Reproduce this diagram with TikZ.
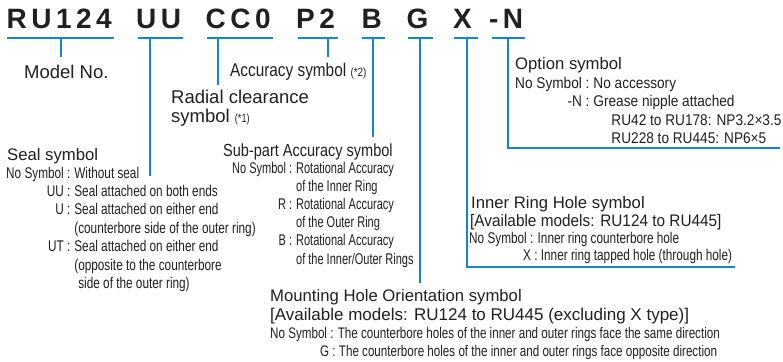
\documentclass[tikz,border=0pt]{standalone}
\usepackage{fontspec}
\setmainfont{Liberation Sans}
\newfontfamily\codefont[LetterSpace=16]{Liberation Sans}
\newfontfamily\narrowfont[FakeStretch=0.76]{Liberation Sans}
\newfontfamily\condfont[FakeStretch=0.71]{Liberation Sans}
\newfontfamily\widerfont[FakeStretch=0.83]{Liberation Sans}
\newfontfamily\semifont[FakeStretch=0.88]{Liberation Sans}
\newfontfamily\bracketfont[FakeStretch=0.92]{Liberation Sans}
\definecolor{ink}{RGB}{35,31,32}
\definecolor{lineblue}{RGB}{22,132,212}

\begin{document}
\begin{tikzpicture}[x=1pt, y=-1pt,
    code/.style={anchor=base west, inner sep=0pt, text=ink,
                 font=\codefont\bfseries\fontsize{28}{28}\selectfont},
    bigtext/.style={anchor=base west, inner sep=0pt, text=ink,
                    font=\fontsize{18.5}{19}\selectfont},
    head/.style={anchor=base west, inner sep=0pt, text=ink,
                 font=\fontsize{16.7}{18}\selectfont},
    rows/.style={anchor=base west, inner sep=0pt, text=ink,
                 font=\narrowfont\fontsize{15.5}{18.4}\selectfont},
    uline/.style={draw=lineblue, line width=2.2pt},
    lead/.style={draw=lineblue, line width=1.8pt}]
    \fill[white] (0,0) rectangle (783,361);
    \useasboundingbox (0,0) rectangle (783,361);

    % ordering code
    \foreach \n/\x/\t in {ru/6.5/RU124, uu/136/UU, cc/205.5/CC0, pp/296/P2,
                          bb/361.5/B, gg/406.5/G, xx/453/X, nn/489/-N}
      \node[code] (\n) at (\x,28.5) {\t};
    \foreach \n/\a/\b/\m in {ru/7/114/61, uu/138/183/150, cc/207/273/218,
                             pp/298/338/328, bb/362/385/373, gg/408/433/420,
                             xx/454/478/467, nn/492/525/508} {
      \draw[uline] (\a,38) -- (\b,38);
      \coordinate (\n-top) at (\m,38);
    }

    % labels
    \node[bigtext] (modelno) at (24,78.5) {Model No.};
    \node[bigtext, font=\widerfont\fontsize{18.5}{19}\selectfont] (accuracy) at (230,76.5)
      {Accuracy symbol {\fontsize{12}{12}\selectfont(*2)}};
    \node[bigtext] (radial) at (171,103.5)
      {\begin{tabular}[t]{@{}l@{}}Radial clearance\\
       symbol {\narrowfont\fontsize{12}{12}\selectfont(*1)}\end{tabular}};

    \node[head] (opthead) at (515,69) {Option symbol};
    \node[rows, font=\semifont\fontsize{15.5}{18.3}\selectfont] (optrows) at (515,88.5)
      {\begin{tabular}[t]{@{}r@{\hspace{4pt}}l@{}}
       No Symbol : & No accessory\\
       -N : & Grease nipple attached\\
       & \hspace{18pt}RU42 to RU178: NP3.2×3.5\\
       & \hspace{18pt}RU228 to RU445: NP6×5
       \end{tabular}};

    \node[head] (sealhead) at (7,160) {Seal symbol};
    \node[rows] (sealrows) at (6,178)
      {\begin{tabular}[t]{@{}r@{\hspace{4pt}}l@{}}
       No Symbol : & Without seal\\
       UU : & Seal attached on both ends\\
       U : & Seal attached on either end\\
       & (counterbore side of the outer ring)\\
       UT : & Seal attached on either end\\
       & (opposite to the counterbore\\
       & \hspace{4pt}side of the outer ring)
       \end{tabular}};

    \node[head, font=\widerfont\fontsize{17.5}{18}\selectfont] (subhead) at (223,156)
      {Sub-part Accuracy symbol};
    \node[rows, font=\condfont\fontsize{15.5}{18.2}\selectfont] (subrows) at (232,173)
      {\begin{tabular}[t]{@{}r@{\hspace{4pt}}l@{}}
       No Symbol : & Rotational Accuracy\\
       & of the Inner Ring\\
       R : & Rotational Accuracy\\
       & of the Outer Ring\\
       B : & Rotational Accuracy\\
       & of the Inner/Outer Rings
       \end{tabular}};

    \node[head] (holehead) at (471,208) {Inner Ring Hole symbol};
    \node[head, font=\bracketfont\fontsize{16.7}{18}\selectfont] (holemodels) at (470,226)
      {[Available models: RU124 to RU445]};
    \node[rows, font=\narrowfont\fontsize{15.5}{17}\selectfont] (holerows) at (469,243.5)
      {\begin{tabular}[t]{@{}l@{}}
       No Symbol : Inner ring counterbore hole\\
       \hspace*{54pt}X : Inner ring tapped hole (through hole)
       \end{tabular}};

    \node[head] (mounthead) at (270,301) {Mounting Hole Orientation symbol};
    \node[head, font=\fontsize{17}{18}\selectfont] (mountmodels) at (270,320)
      {[Available models: RU124 to RU445 (excluding X type)]};
    \node[rows, font=\narrowfont\fontsize{15.3}{17.5}\selectfont] (mountrows) at (270,338.5)
      {\begin{tabular}[t]{@{}l@{}}
       No Symbol : The counterbore holes of the inner and outer rings face the same direction\\
       \hspace*{50pt}G : The counterbore holes of the inner and outer rings face opposite direction
       \end{tabular}};

    % leaders
    \coordinate (ru-end) at (61,57);
    \coordinate (uu-end) at (150,176);
    \coordinate (cc-end) at (218,85);
    \coordinate (pp-end) at (328,57);
    \coordinate (bb-end) at (373,137);
    \coordinate (gg-end) at (420,283);
    \coordinate (xx-end) at (735,267);
    \coordinate (nn-end) at (780,148);
    \foreach \n in {ru,uu,cc,pp,bb,gg}
      \draw[lead] (\n-top) -- (\n-end);
    \draw[lead] (xx-top) |- (xx-end);
    \draw[lead] (nn-top) |- (nn-end);
\end{tikzpicture}
\end{document}
